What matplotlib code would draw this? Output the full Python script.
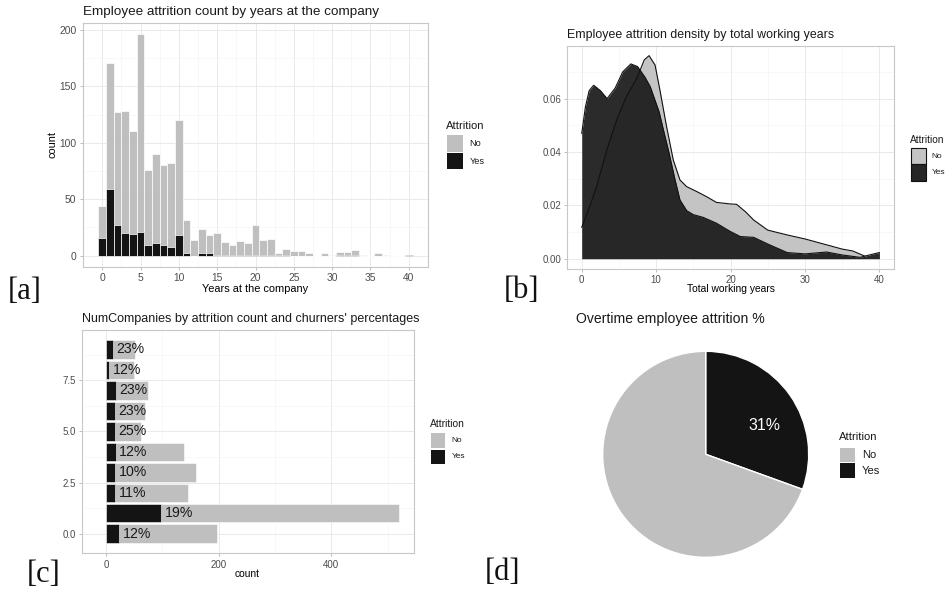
#!/usr/bin/env python3

import matplotlib
matplotlib.use('Agg')
import matplotlib.pyplot as plt
from matplotlib.patches import Rectangle
import numpy as np

plt.rcParams['font.family'] = ['Liberation Sans', 'DejaVu Sans']

# [a] years at the company (0..40): total employees and churners
years = np.arange(41)
years_total = [44, 171, 127, 128, 110, 196, 76, 90, 80, 82, 120, 32, 14, 24, 18, 20, 12, 9, 13, 11,
               27, 14, 15, 2, 6, 4, 4, 2, 0, 2, 1, 3, 3, 5, 1, 0, 2, 1, 0, 0, 1]
years_yes = [16, 59, 27, 20, 19, 21, 9, 11, 9, 8, 18, 2, 0, 2, 2, 1, 1, 1, 1, 1,
             1, 1, 1, 1, 1, 0, 0, 0, 0, 0, 0, 1, 1, 1, 0, 0, 0, 0, 0, 0, 1]

# [b] density of total working years
dens_no_x = [0, 1, 2, 3.4, 4.7, 6.0, 7.4, 8.4, 9.05, 9.85, 10.5, 11.4, 12.3, 13.2, 14.1, 15.5,
             16.8, 18.1, 20, 20.8, 22, 23.1, 25, 27.6, 30, 32.5, 35, 36.4, 38]
dens_no_y = [0.0118, 0.019, 0.027, 0.041, 0.052, 0.0607, 0.0676, 0.0745, 0.0761, 0.0726, 0.0633,
             0.0495, 0.037, 0.0295, 0.027, 0.0251, 0.0232, 0.0211, 0.0205, 0.0204, 0.0176, 0.0145,
             0.0107, 0.0089, 0.0074, 0.0055, 0.0036, 0.0029, 0.001]
dens_yes_x = [0, 0.5, 1, 1.6, 2.5, 3.4, 4.5, 5.5, 6.6, 7.5, 8.5, 9.2, 10.4, 11.0, 11.7, 12.5, 13.2,
              14.1, 15, 16.3, 18.1, 19.9, 21.3, 23.1, 25, 27.6, 30, 32.9, 35, 37.4, 38.8, 40]
dens_yes_y = [0.047, 0.057, 0.063, 0.065, 0.063, 0.060, 0.064, 0.070, 0.073, 0.072, 0.068, 0.0645,
              0.055, 0.048, 0.040, 0.030, 0.022, 0.018, 0.0165, 0.0155, 0.0133, 0.0103, 0.0083,
              0.008, 0.0055, 0.0023, 0.0018, 0.0025, 0.0014, 0.0005, 0.0015, 0.0023]

# [c] number of companies worked
num_companies = np.arange(10)
nc_total = [197, 521, 146, 159, 139, 63, 70, 74, 49, 52]
nc_yes = [23, 98, 16, 16, 17, 16, 16, 17, 6, 12]

# [d] overtime employees
overtime_labels = ['Yes', 'No']
overtime_counts = [127, 289]

GREY = '#bfbfbf'
BLACK = '#141414'
W, H = 946, 592

fig = plt.figure(figsize=(W / 100, H / 100), dpi=100)


def box(x0, y0, x1, y1):
    return [x0 / W, 1 - y1 / H, (x1 - x0) / W, (y1 - y0) / H]


def ftext(x, y, s, **kw):
    fig.text(x / W, 1 - y / H, s, **kw)


def frect(x0, y0, x1, y1, fc, ec='none', lw=0):
    fig.patches.append(Rectangle((x0 / W, 1 - y1 / H), (x1 - x0) / W, (y1 - y0) / H,
                                 transform=fig.transFigure, facecolor=fc, edgecolor=ec, lw=lw))


def style(ax, xmaj, xmin, ymaj, ymin, size):
    for sp in ax.spines.values():
        sp.set_color('#c8c8c8')
        sp.set_linewidth(0.8)
    ax.set_xticks(xmaj)
    ax.set_xticks(xmin, minor=True)
    ax.set_yticks(ymaj)
    ax.set_yticks(ymin, minor=True)
    ax.grid(which='major', color='#e6e6e6', lw=0.6)
    ax.grid(which='minor', color='#f3f3f3', lw=0.4)
    ax.set_axisbelow(True)
    ax.tick_params(which='major', length=2.5, width=0.6, color='#b3b3b3',
                   labelcolor='#4d4d4d', labelsize=size, pad=2.0)
    ax.tick_params(which='minor', length=0)


def legend(x, base, key_x1, keys, lab_x, fs_t, fs_l, fills, ec='none', lw=0):
    ftext(x, base, 'Attrition', fontsize=fs_t, color='#1a1a1a', va='baseline')
    for (y0, y1), fc, lab in zip(keys, fills, ['No', 'Yes']):
        frect(x + 0.7, y0, key_x1, y1, fc, ec, lw)
        ftext(lab_x, (y0 + y1) / 2, lab, fontsize=fs_l, color='#1a1a1a', va='center')


# ---- [a] histogram
ax = fig.add_axes(box(82.7, 23.3, 428.3, 266.7))
ax.bar(years, years_total, width=1, color=GREY, edgecolor='white', lw=0.5)
ax.bar(years, years_yes, width=1, color=BLACK, edgecolor='white', lw=0.5)
ax.set_xlim(-2.55, 42.55)
ax.set_ylim(-9.8, 205.8)
style(ax, range(0, 41, 5), np.arange(2.5, 41, 5), range(0, 201, 50), range(25, 201, 50), 7.4)
ftext(83, 15, 'Employee attrition count by years at the company', fontsize=9.7, color='#1a1a1a', va='baseline')
ftext(255.5, 291.5, 'Years at the company', fontsize=7.9, ha='center', va='baseline')
ftext(52, 145, 'count', fontsize=7.9, rotation=90, ha='center', va='center')
legend(446, 129.3, 462.7, [(135, 151.7), (153.3, 169.3)], 469.3, 8.1, 6.6, [GREY, BLACK])

# ---- [b] density
ax = fig.add_axes(box(567.3, 46.3, 894.3, 268.7))
ax.fill_between(dens_no_x, dens_no_y, color='#c4c4c4', lw=0)
ax.plot(dens_no_x, dens_no_y, color='#111111', lw=0.8)
ax.fill_between(dens_yes_x, dens_yes_y, color='#1f1f1f', alpha=0.95, lw=0)
ax.plot(dens_yes_x, dens_yes_y, color='#111111', lw=0.8)
ax.set_xlim(-1.94, 42.0)
ax.set_ylim(-0.00375, 0.0796)
style(ax, range(0, 41, 10), range(5, 41, 10), [0, 0.02, 0.04, 0.06], [0.01, 0.03, 0.05, 0.07], 7.0)
ax.set_yticklabels(['0.00', '0.02', '0.04', '0.06'])
ftext(567.3, 38.3, 'Employee attrition density by total working years', fontsize=8.9, color='#1a1a1a', va='baseline')
ftext(730.8, 292.5, 'Total working years', fontsize=7.4, ha='center', va='baseline')
legend(910, 142.7, 925.7, [(148.3, 164.3), (164.3, 180.5)], 931.7, 7.3, 6.0,
       ['#c4c4c4', '#262626'], ec='#111111', lw=0.8)

# ---- [c] horizontal stacked bars
ax = fig.add_axes(box(82, 330, 414.3, 553.3))
ax.barh(num_companies, nc_total, height=0.9, color=GREY, edgecolor='white', lw=0.4)
ax.barh(num_companies, nc_yes, height=0.9, color=BLACK, edgecolor='white', lw=0.4)
for n, tot, yes in zip(num_companies, nc_total, nc_yes):
    ax.annotate(f'{round(100 * yes / tot)}%', xy=(yes, n), xytext=(2.5, 0), textcoords='offset points',
                ha='left', va='center', fontsize=10.2, color='#1a1a1a')
ax.set_xlim(-42.6, 547.3)
ax.set_ylim(-0.957, 9.95)
style(ax, [0, 200, 400], [100, 300, 500], [0, 2.5, 5, 7.5], [1.25, 3.75, 6.25, 8.75], 7.0)
ax.set_yticklabels(['0.0', '2.5', '5.0', '7.5'])
ftext(82, 321.7, "NumCompanies by attrition count and churners' percentages", fontsize=9.0,
      color='#1a1a1a', va='baseline')
ftext(247, 577.3, 'count', fontsize=7.4, ha='center', va='baseline')
legend(430, 427.3, 445.3, [(433.3, 447.7), (449.7, 464.3)], 451.7, 7.4, 6.0, [GREY, BLACK])

# ---- [d] pie
ax = fig.add_axes(box(602.7, 351.3, 808.7, 557.3))
ax.pie(overtime_counts, colors=[BLACK, GREY], startangle=90, counterclock=False, radius=1,
       wedgeprops=dict(edgecolor='white', linewidth=1))
ax.set_xlim(-1, 1)
ax.set_ylim(-1, 1)
share = round(100 * overtime_counts[0] / sum(overtime_counts))
ax.text(0.566, 0.284, f'{share}%', color='white', fontsize=11.4, ha='center', va='center')
ftext(576, 323.3, 'Overtime employee attrition %', fontsize=10.1, color='#1a1a1a', va='baseline')
legend(839.3, 440, 854.7, [(447.7, 461.7), (463.3, 477.7)], 861.7, 8.1, 8.0, [GREY, BLACK])

# panel tags
for tag, x, y in [('[a]', 25, 291.5), ('[b]', 521.5, 291), ('[c]', 43.3, 574), ('[d]', 502, 573)]:
    ftext(x, y, tag, fontsize=22, family='Liberation Serif', ha='center', va='center', color='#111111')

plt.savefig('out.png', dpi=100)
